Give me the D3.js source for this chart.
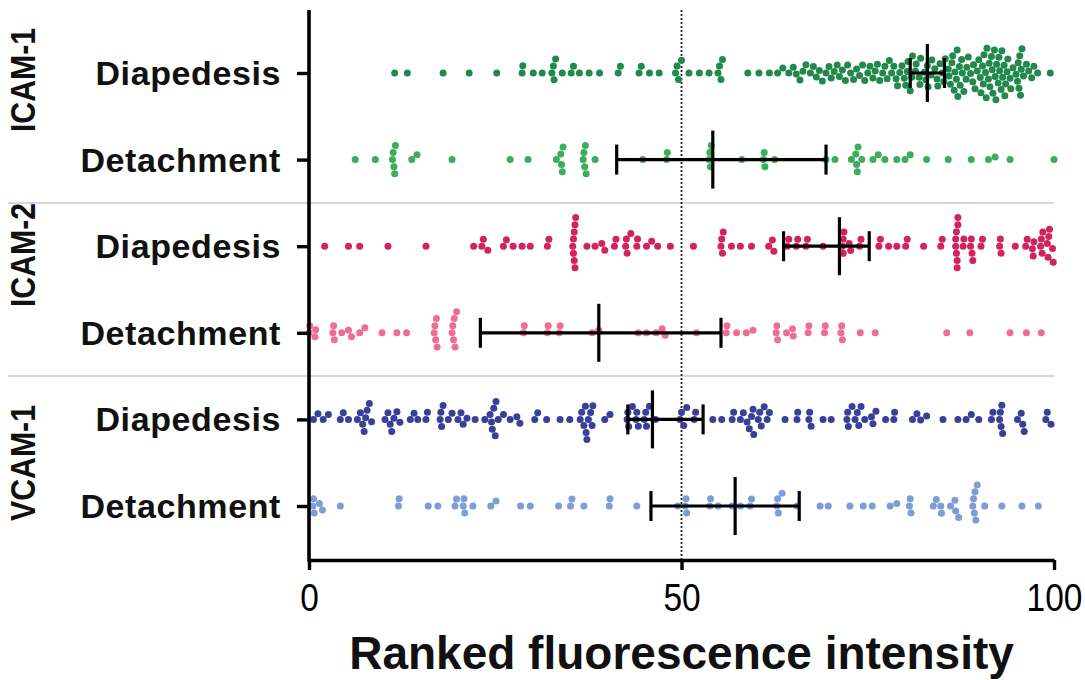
<!DOCTYPE html>
<html>
<head>
<meta charset="utf-8">
<script src="https://cdn.jsdelivr.net/npm/d3@7"></script>
<style>
  html, body { margin: 0; padding: 0; background: #fff; }
  svg { display: block; }
</style>
</head>
<body>
<div id="vis"></div>
<script>
// Rows, top to bottom
const rows = ["ICAM-1 Diapedesis", "ICAM-1 Detachment", "ICAM-2 Diapedesis", "ICAM-2 Detachment", "VCAM-1 Diapedesis", "VCAM-1 Detachment"];
const rowLabels = ["Diapedesis", "Detachment", "Diapedesis", "Detachment", "Diapedesis", "Detachment"];
const groups = ["ICAM-1", "ICAM-2", "VCAM-1"];
const rowColors = ["#21894b", "#3aae5a", "#d2245c", "#ef6c93", "#3a3f98", "#7c9dd6"];
const xTicks = [0, 50, 100];

// Ranked values
const icam1Diap = [11.5, 13.2, 18.0, 21.5, 25.2,
  28.6, 28.7, 30.1, 31.3, 32.6, 32.8, 32.9, 33.1, 34.0, 35.2, 35.5, 36.3, 37.6, 39.0, 41.5, 41.8, 44.3, 44.6, 45.7, 47.0,
  49.2, 49.4, 49.6, 50.0, 51.0, 52.4, 53.7, 54.9, 55.1, 55.3, 55.5, 58.9, 60.4, 61.8, 62.9, 63.6, 64.4,
  65.0, 65.4, 65.9, 66.3, 66.7, 67.3, 67.7, 68.1, 68.5, 68.9, 69.4, 69.8, 70.1, 70.5, 70.9, 71.2,
  71.6, 72.0, 72.3, 72.7, 73.1, 73.5, 73.9, 74.3, 74.6, 75.0, 75.3, 75.7, 76.0, 76.3, 76.6, 77.0, 77.3, 77.6, 77.9,
  78.2, 78.5, 78.8, 79.0, 79.3, 79.6, 79.9, 80.1, 80.3,
  80.4, 80.7, 80.9, 81.0, 81.4, 81.5, 81.9, 82.0, 82.1, 82.6, 82.8, 83.0, 83.1, 83.5, 83.6, 84.0, 84.3, 84.4, 84.7, 85.0, 85.2, 85.4, 85.8, 85.9,
  86.1, 86.3, 86.4, 86.6, 86.7, 86.9, 87.0, 87.1, 87.3, 87.4, 87.6, 87.7, 87.9, 88.2, 88.3, 88.5, 88.8, 89.1, 89.2, 89.4, 89.7, 89.9,
  90.1, 90.2, 90.4, 90.5, 90.6, 90.8, 90.9, 91.0, 91.2, 91.3, 91.4, 91.6, 91.7, 91.8, 92.0, 92.1, 92.2, 92.3, 92.5, 92.6, 92.7, 92.9,
  93.0, 93.1, 93.3, 93.4, 93.5, 93.7, 93.8, 94.1, 94.2, 94.5,
  94.9, 95.1, 95.2, 95.3, 95.4, 95.5, 95.6, 95.7, 95.9, 96.3, 96.6, 97.0, 97.3, 97.8, 99.5];

const icam1Det = [6.2, 8.9, 11.2, 11.3, 11.4, 11.5, 11.6, 13.8, 14.5, 19.2, 27.0, 29.4,
  33.2, 33.8, 33.9, 34.0, 34.1, 36.8, 36.9, 37.0, 37.1, 37.2, 38.4, 44.8, 48.0, 48.1,
  53.7, 53.8, 53.9, 54.0, 58.1, 61.0, 61.1, 61.2, 62.5, 69.4, 70.6, 72.8, 73.4, 73.5, 73.6, 73.7, 74.2,
  75.7, 76.4, 77.3, 78.9, 80.0, 80.7, 82.9, 85.8, 88.9, 91.2, 92.1, 94.1, 100.0];

const icam2Diap = [2.1, 5.3, 6.8, 10.6, 15.7, 22.1, 23.2, 23.4, 24.0, 26.1, 26.5, 27.4, 28.6, 29.7, 32.0, 32.2,
  35.4, 35.5, 35.5, 35.6, 35.6, 35.7, 35.7, 35.8,
  37.3, 38.4, 39.3, 39.7, 41.0, 41.2, 42.5, 42.6, 42.7, 43.2, 44.0, 44.1, 45.3, 46.0, 46.8, 48.5,
  51.6, 55.3, 55.4, 55.5, 55.6, 56.7, 57.9, 59.4, 61.7, 62.2, 62.4, 64.2, 64.4, 65.4, 65.6, 66.7, 66.9, 69.0,
  71.6, 71.7, 71.7, 71.8, 72.5, 72.7, 73.9, 74.1, 76.5, 76.7, 77.8, 78.9, 80.1, 80.3, 82.5,
  84.8, 85.0, 86.8, 86.8, 86.9, 86.9, 87.0, 87.0, 87.1, 87.1, 87.8, 87.9, 88.8, 88.9, 89.0, 89.1, 90.2, 90.4,
  92.7, 92.8, 92.9, 94.8, 96.2, 96.4, 97.1, 97.2, 97.3, 98.2, 98.3, 98.4, 98.5, 99.1, 99.2, 99.3, 99.4, 99.8, 99.9];

const icam2Det = [0.0, 0.1, 0.8, 0.9, 3.2, 3.3, 3.4, 4.4, 5.3, 5.7, 6.8, 7.5, 9.8, 11.8, 13.1,
  16.8, 16.9, 17.0, 17.1, 17.2, 19.2, 19.3, 19.4, 19.5, 19.6, 19.8,
  28.8, 28.9, 32.0, 32.1, 33.6, 33.7, 38.0, 38.9, 44.2, 45.3, 46.6, 47.4, 47.8,
  52.0, 56.0, 56.1, 57.4, 58.7, 59.6, 62.7, 62.8, 62.9, 64.1, 64.9, 65.0, 67.0, 67.1, 69.2, 69.3,
  71.4, 71.5, 71.6, 74.0, 76.0, 85.6, 88.7, 94.1, 96.3, 98.3];

const vcam1Diap = [0.6, 1.2, 1.9, 2.6, 4.2, 4.6, 5.3, 6.5, 6.9, 7.2, 7.4, 7.6, 7.8, 8.1, 8.4,
  10.2, 10.6, 10.9, 11.1, 11.4, 11.8, 12.2, 13.6, 14.1, 14.6, 15.7, 15.9, 17.6, 17.7, 17.8, 18.0, 18.7, 19.2, 20.0, 20.4, 20.7, 21.2,
  22.3, 23.6, 24.3, 24.5, 24.6, 24.8, 25.0, 25.1, 25.4, 26.1, 27.0, 27.9, 28.3, 30.3, 30.7, 31.9, 33.7, 35.0,
  36.4, 36.6, 36.9, 37.1, 37.2, 37.3, 37.5, 37.8, 38.0, 38.1, 39.7, 40.4,
  42.7, 42.8, 42.9, 43.4, 43.9, 44.0, 44.2, 45.0, 45.2, 45.3, 45.7, 46.5,
  49.8, 50.0, 50.3, 50.7, 51.7, 51.9, 54.2, 55.4, 56.8, 57.0, 57.9, 58.3, 58.8, 59.1, 59.4, 59.6, 59.7, 60.3, 60.5, 60.7, 61.1, 61.5, 61.8,
  63.9, 65.5, 65.6, 67.1, 67.2, 67.4, 69.0, 70.1,
  72.2, 72.3, 72.4, 72.9, 73.3, 73.6, 73.8, 74.1, 74.6, 75.5, 75.7, 76.1, 77.4, 78.5, 78.6,
  81.0, 81.6, 82.1, 82.9, 85.1, 87.1, 88.2, 88.9, 89.9,
  91.6, 91.8, 92.7, 92.8, 92.9, 93.0, 93.1, 95.1, 95.6, 95.8, 96.0, 98.9, 99.1, 99.6];

const vcam1Det = [0.5, 0.6, 0.7, 1.4, 1.8, 4.2, 12.0, 12.1, 16.0, 17.3, 19.6, 19.8, 20.7, 20.8, 20.9, 22.0,
  24.4, 25.1, 28.4, 29.7, 33.5, 35.1, 35.3, 36.9, 40.3, 40.4, 44.0, 49.5,
  50.5, 50.6, 50.7, 53.8, 53.9, 54.9, 56.8, 57.9, 59.2, 59.4, 62.8, 62.9, 63.0, 63.5, 65.5, 68.6, 69.7,
  72.6, 74.4, 75.6, 78.0, 78.9, 80.6, 80.7, 80.8,
  83.8, 84.2, 84.8, 84.9, 86.1, 86.7, 86.8, 87.2, 89.1, 89.2, 89.3, 89.4, 89.5, 89.7, 90.7, 93.0, 95.7, 97.9];

const rowValues = [icam1Diap, icam1Det, icam2Diap, icam2Det, vcam1Diap, vcam1Det];

// Median with whiskers for each row
const medians = [83.0, 54.2, 71.2, 38.9, 46.1, 57.2];
const lows = [80.7, 41.3, 63.7, 23.0, 42.8, 45.9];
const highs = [85.3, 69.4, 75.2, 55.3, 52.9, 65.8];

// Dimensions
const width = 1085;
const height = 680;
const plotTop = 10;
const plotBottom = 560;

const svg = d3.select("#vis")
  .append("svg")
  .attr("width", width)
  .attr("height", height);

// Scales
const xScale = d3.scaleLinear()
  .domain([0, 100])
  .range([309, 1054]);

const yScale = d3.scalePoint()
  .domain(rows)
  .range([73, 506]);

const r = 3.5;
const sep = 7.2;

// Beeswarm: place each dot at the smallest offset that avoids earlier ones
function dodge(values) {
  const placed = [];
  const sorted = values.slice().sort((a, b) => a - b);
  sorted.forEach(v => {
    const px = xScale(v);
    const near = placed.filter(p => Math.abs(p.px - px) < sep);
    const cands = [0];
    near.forEach(p => {
      const dy = Math.sqrt(sep * sep - (p.px - px) * (p.px - px));
      cands.push(p.dy + dy, p.dy - dy);
    });
    cands.sort((a, b) => Math.abs(a) - Math.abs(b) || a - b);
    const best = cands.find(c => near.every(p => (p.px - px) ** 2 + (p.dy - c) ** 2 >= sep * sep - 0.01));
    placed.push({ v: v, px: px, dy: best });
  });
  return placed;
}

const narrow = "'Liberation Sans Narrow', 'Arial Narrow', 'Liberation Sans', Arial, sans-serif";

// Group separators
const sepYs = [(yScale(rows[1]) + yScale(rows[2])) / 2, (yScale(rows[3]) + yScale(rows[4])) / 2];
svg.append("g")
  .selectAll("line")
  .data(sepYs)
  .enter()
  .append("line")
  .attr("x1", 8)
  .attr("x2", xScale(100))
  .attr("y1", d => d)
  .attr("y2", d => d)
  .attr("stroke", "#c9c9c9")
  .attr("stroke-width", 1.5);

// Dotted line at 50
svg.append("line")
  .attr("x1", xScale(50))
  .attr("x2", xScale(50))
  .attr("y1", plotTop)
  .attr("y2", plotBottom)
  .attr("stroke", "#222")
  .attr("stroke-width", 1.8)
  .attr("stroke-dasharray", "2,2");

// Dots
rows.forEach((row, i) => {
  svg.append("g")
    .selectAll("circle")
    .data(dodge(rowValues[i]))
    .enter()
    .append("circle")
    .attr("cx", d => d.px)
    .attr("cy", d => yScale(row) + d.dy)
    .attr("r", r)
    .attr("fill", rowColors[i]);
});

// Median and whiskers
const stats = rows.map((row, i) => ({ row: row, med: medians[i], lo: lows[i], hi: highs[i] }));
const bars = svg.append("g")
  .attr("stroke", "#000")
  .attr("stroke-width", 3.2);

bars.selectAll(".whisk")
  .data(stats)
  .enter()
  .append("line")
  .attr("x1", d => xScale(d.lo))
  .attr("x2", d => xScale(d.hi))
  .attr("y1", d => yScale(d.row))
  .attr("y2", d => yScale(d.row));

bars.selectAll(".med")
  .data(stats)
  .enter()
  .append("line")
  .attr("x1", d => xScale(d.med))
  .attr("x2", d => xScale(d.med))
  .attr("y1", d => yScale(d.row) - 29)
  .attr("y2", d => yScale(d.row) + 29);

["lo", "hi"].forEach(k => {
  bars.selectAll(".cap-" + k)
    .data(stats)
    .enter()
    .append("line")
    .attr("x1", d => xScale(d[k]))
    .attr("x2", d => xScale(d[k]))
    .attr("y1", d => yScale(d.row) - 15)
    .attr("y2", d => yScale(d.row) + 15);
});

// Axes
const xAxis = svg.append("g")
  .attr("transform", `translate(0,${plotBottom})`)
  .call(d3.axisBottom(xScale).tickValues(xTicks).tickSize(10).tickSizeOuter(0).tickPadding(14));
xAxis.select(".domain").attr("stroke-width", 3.6);
xAxis.selectAll(".tick line").attr("stroke-width", 3.4);
xAxis.selectAll(".tick text")
  .attr("font-family", narrow)
  .attr("font-size", "38px")
  .attr("transform", "scale(0.88,1)")
  .attr("fill", "#000");

const yAxis = svg.append("g")
  .attr("transform", `translate(${xScale(0)},0)`)
  .call(d3.axisLeft(yScale).tickSize(12).tickFormat(""));
yAxis.select(".domain").remove();
yAxis.selectAll(".tick line").attr("stroke-width", 3.4);

svg.append("line")
  .attr("x1", xScale(0))
  .attr("x2", xScale(0))
  .attr("y1", plotTop)
  .attr("y2", plotBottom + 1.8)
  .attr("stroke", "#000")
  .attr("stroke-width", 3.6);

// Row labels
svg.append("g")
  .selectAll("text")
  .data(rows)
  .enter()
  .append("text")
  .attr("x", 281)
  .attr("y", d => yScale(d) + 12)
  .attr("text-anchor", "end")
  .attr("font-family", "'Liberation Sans', Arial, sans-serif")
  .attr("font-weight", "bold")
  .attr("font-size", "34px")
  .attr("letter-spacing", "0.6px")
  .attr("fill", "#111")
  .text((d, i) => rowLabels[i]);

// Group labels (rotated)
const groupY = [80, 255, 463];
svg.append("g")
  .selectAll("text")
  .data(groups)
  .enter()
  .append("text")
  .attr("transform", (d, i) => `translate(35,${groupY[i]}) rotate(-90) scale(0.84,1)`)
  .attr("text-anchor", "middle")
  .attr("font-family", narrow)
  .attr("font-weight", "bold")
  .attr("font-size", "36px")
  .attr("fill", "#111")
  .text(d => d);

// Axis title
svg.append("text")
  .attr("x", xScale(50))
  .attr("y", 669)
  .attr("text-anchor", "middle")
  .attr("font-family", narrow)
  .attr("font-weight", "bold")
  .attr("font-size", "46px")
  .attr("fill", "#111")
  .text("Ranked fluorescence intensity");
</script>
</body>
</html>
